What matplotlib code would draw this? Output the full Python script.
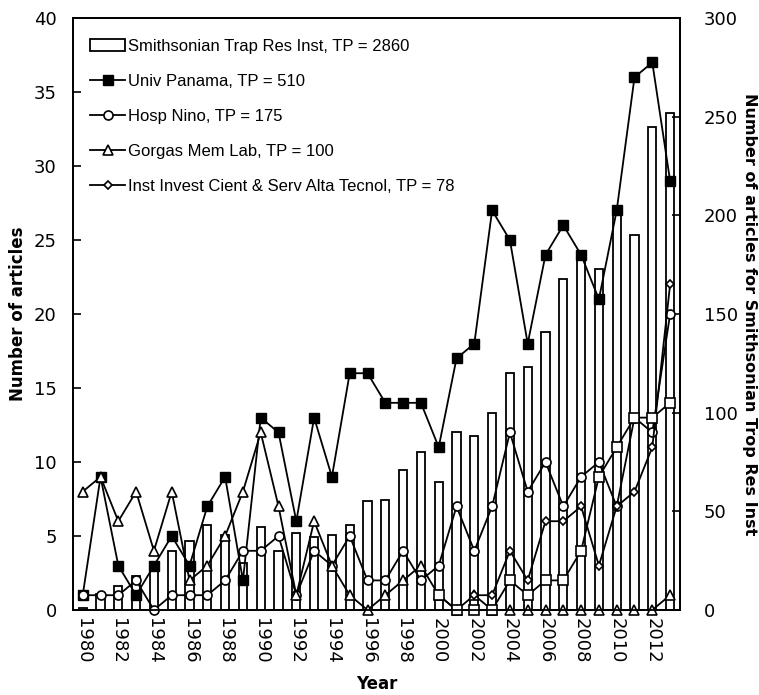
import numpy as np
import matplotlib
matplotlib.use("Agg")
import matplotlib.pyplot as plt

years = list(range(1980, 2014))

# Smithsonian (right axis, bars)
smithsonian = [1, 8, 12, 17, 20, 30, 35, 43, 38, 24,
               42, 30, 39, 37, 38, 43, 55, 56, 71, 80,
               65, 90, 88, 100, 120, 123, 141, 168, 181, 173,
               205, 190, 245, 252]

univ_panama = [1, 9, 3, 1, 3, 5, 3, 7, 9, 2,
               13, 12, 6, 13, 9, 16, 16, 14, 14, 14,
               11, 17, 18, 27, 25, 18, 24, 26, 24, 21,
               27, 36, 37, 29]

hosp_nino = [1, 1, 1, 2, 0, 1, 1, 1, 2, 4,
             4, 5, 1, 4, 3, 5, 2, 2, 4, 2,
             3, 7, 4, 7, 12, 8, 10, 7, 9, 10,
             7, 13, 12, 20]

gorgas = [8, 9, 6, 8, 4, 8, 2, 3, 5, 8,
          12, 7, 1, 6, 3, 1, 0, 1, 2, 3,
          1, 0, 1, 0, 0, 0, 0, 0, 0, 0,
          0, 0, 0, 1]

# Inst Invest Cient & Serv Alta Tecnol, from 2002
indicasat_years = list(range(2002, 2014))
indicasat = [1, 1, 4, 2, 6, 6, 7, 3, 7, 8, 11, 22]

# unlabelled open-square series, from 2000
other_years = list(range(2000, 2014))
other = [1, 0, 0, 0, 2, 1, 2, 2, 4, 9, 11, 13, 13, 14]

labels = ["Smithsonian Trap Res Inst, TP = 2860",
          "Univ Panama, TP = 510",
          "Hosp Nino, TP = 175",
          "Gorgas Mem Lab, TP = 100",
          "Inst Invest Cient & Serv Alta Tecnol, TP = 78"]

fig = plt.figure(figsize=(7.59, 6.95), dpi=100)
ax = fig.add_axes([0.0968, 0.1223, 0.896 - 0.0968, 0.974 - 0.1223])
ax2 = ax.twinx()

bars = ax2.bar(years, smithsonian, width=0.46, facecolor="white",
               edgecolor="black", linewidth=1.3, label=labels[0])

lw = 1.3
l1, = ax.plot(years, univ_panama, color="black", lw=lw, marker="s", ms=7,
              mfc="black", mec="black", clip_on=False, label=labels[1])
l2, = ax.plot(years, hosp_nino, color="black", lw=lw, marker="o", ms=6.5,
              mfc="white", mec="black", mew=1.2, clip_on=False, label=labels[2])
l3, = ax.plot(years, gorgas, color="black", lw=lw, marker="^", ms=7,
              mfc="white", mec="black", mew=1.2, clip_on=False, label=labels[3])
l4, = ax.plot(indicasat_years, indicasat, color="black", lw=lw, marker="D", ms=4.5,
              mfc="white", mec="black", mew=1.2, clip_on=False, label=labels[4])
ax.plot(other_years, other, color="black", lw=lw, marker="s", ms=6.5,
        mfc="white", mec="black", mew=1.2, clip_on=False)

ax.set_zorder(ax2.get_zorder() + 1)
ax.patch.set_visible(False)

ax.set_xlim(1979.48, 2013.56)
ax.set_ylim(0, 40)
ax2.set_ylim(0, 300)
ax.set_yticks(np.arange(0, 41, 5))
ax2.set_yticks(np.arange(0, 301, 50))
ax.set_xticks(range(1980, 2013, 2))
ax.set_xticklabels([str(y) for y in range(1980, 2013, 2)], rotation=-90)

ax.tick_params(axis="y", direction="in", length=6, width=1.2, labelsize=13, pad=12)
ax2.tick_params(axis="y", direction="in", length=6, width=1.2, labelsize=13, pad=17)
ax.tick_params(axis="x", length=0, labelsize=13, pad=6)
for s in list(ax.spines.values()) + list(ax2.spines.values()):
    s.set_linewidth(1.3)

ax.set_xlabel("Year", fontsize=12, fontweight="bold", labelpad=8)
ax.set_ylabel("Number of articles", fontsize=12, fontweight="bold", labelpad=5)
fig.text(749 / 759, 1 - 314 / 695, "Number of articles for Smithsonian Trop Res Inst",
         fontsize=11.5, fontweight="bold", rotation=-90, ha="center", va="center")

leg = ax.legend([bars, l1, l2, l3, l4], labels, loc="upper left",
                bbox_to_anchor=(-0.007, 1.0), frameon=False, numpoints=1,
                prop={"family": "Liberation Sans", "size": 12},
                handlelength=2.1, handletextpad=0.2, labelspacing=1.2,
                borderaxespad=0.85)

fig.savefig("out.png", dpi=100)
